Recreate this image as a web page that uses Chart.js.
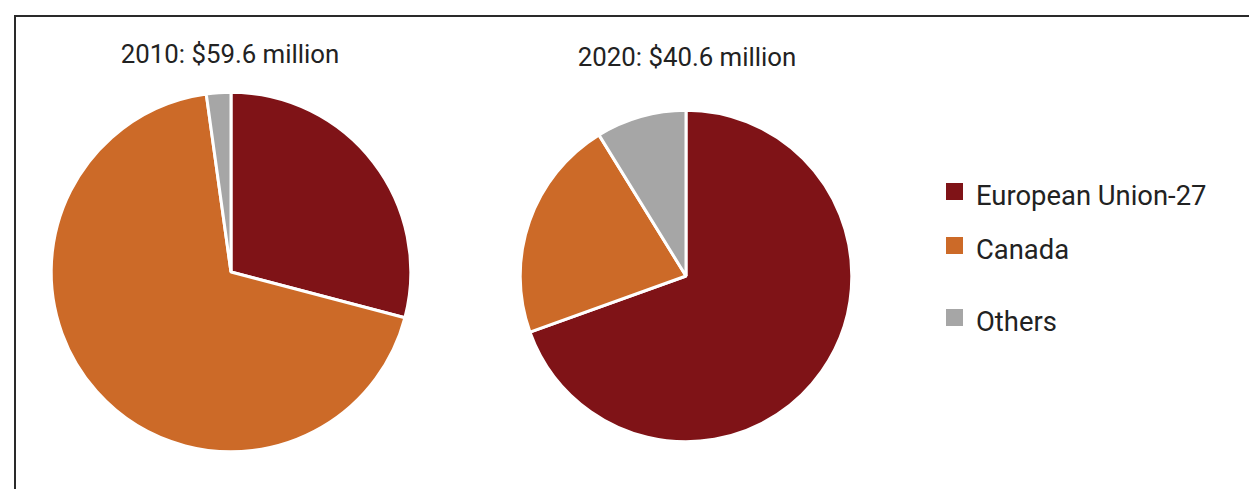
<!DOCTYPE html>
<html>
<head>
<meta charset="utf-8">
<script src="https://cdn.jsdelivr.net/npm/chart.js@4/dist/chart.umd.min.js"></script>
<style>
  html, body { margin: 0; padding: 0; background: #fff; }
  body { width: 1249px; height: 489px; position: relative; overflow: hidden; font-family: Roboto, "Liberation Sans", sans-serif; color: #222; }
  #frame { position: absolute; left: 14px; top: 15px; width: 1400px; height: 600px; border-left: 2px solid #2a2a2a; border-top: 2px solid #2a2a2a; }
  canvas { position: absolute; }
  #c1 { left: 46px; top: 87px; }
  #c2 { left: 511px; top: 101px; }
  .ptitle { position: absolute; font-size: 25.8px; white-space: nowrap; transform: translateX(-50%); line-height: 1; }
  #t1 { left: 230px; top: 42px; }
  #t2 { left: 687px; top: 45px; }
  #legend { position: absolute; left: 946px; top: 0; }
  .li { position: absolute; left: 0; white-space: nowrap; font-size: 27.4px; line-height: 1; }
  .sw { position: absolute; left: 0; width: 17px; height: 17px; }
  .lt { position: absolute; left: 30px; }
</style>
</head>
<body>
<div id="frame"></div>
<div id="t1" class="ptitle"></div>
<div id="t2" class="ptitle"></div>
<canvas id="c1" width="370" height="370"></canvas>
<canvas id="c2" width="350" height="350"></canvas>
<div id="legend"></div>
<script>
const categories = ["European Union-27", "Canada", "Others"];
const colors = ["#7f1317", "#cc6a28", "#a6a6a6"];
const values2010 = [29.1, 68.7, 2.2];
const values2020 = [69.5, 21.7, 8.8];
const titles = ["2010: $59.6 million", "2020: $40.6 million"];

document.getElementById('t1').textContent = titles[0];
document.getElementById('t2').textContent = titles[1];

function makePie(id, values, radius) {
  return new Chart(document.getElementById(id), {
    type: 'pie',
    data: {
      labels: categories,
      datasets: [{
        data: values,
        backgroundColor: colors,
        borderColor: '#ffffff',
        borderWidth: 3,
        radius: radius
      }]
    },
    options: {
      responsive: false,
      animation: false,
      layout: { padding: 0 },
      plugins: { legend: { display: false }, tooltip: { enabled: false }, title: { display: false } }
    }
  });
}
makePie('c1', values2010, 179.8);
makePie('c2', values2020, 165.8);

// legend built from categories/colors
const legendTops = [183, 237, 309];
const lg = document.getElementById('legend');
categories.forEach((c, i) => {
  const row = document.createElement('div');
  row.className = 'li';
  row.style.top = legendTops[i] + 'px';
  const sw = document.createElement('div');
  sw.className = 'sw';
  sw.style.background = colors[i];
  const t = document.createElement('div');
  t.className = 'lt';
  t.style.top = '0px';
  t.textContent = c;
  row.appendChild(sw); row.appendChild(t);
  lg.appendChild(row);
});
</script>
</body>
</html>
